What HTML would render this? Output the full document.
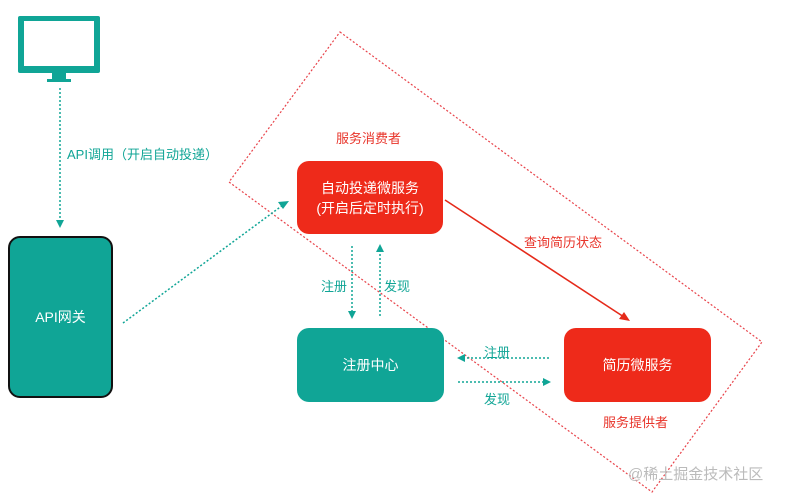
<!DOCTYPE html><html><head><meta charset="utf-8"><style>
body{margin:0;width:793px;height:501px;background:#fff;position:relative;overflow:hidden;font-family:"Liberation Sans","Noto Sans CJK SC",sans-serif}
.b{position:absolute;border-radius:12px;color:#fff;font-size:14px;display:flex;align-items:center;justify-content:center;text-align:center;line-height:20px}
.t{position:absolute;font-size:13px;white-space:nowrap}
</style></head><body>
<svg width="793" height="501" style="position:absolute;left:0;top:0">
<polygon points="340,32 762,342 652,492 229,182" fill="none" stroke="#e8434a" stroke-width="1.2" stroke-dasharray="2,2"/>
<!-- monitor -->
<rect x="18" y="16" width="82" height="57" rx="2" fill="#10a596"/>
<rect x="24" y="21" width="70" height="45" fill="#fff"/>
<rect x="52" y="73" width="14" height="6" fill="#10a596"/>
<rect x="47" y="79" width="24" height="3" fill="#10a596"/>
<g stroke="#10a596" stroke-width="1.5" stroke-dasharray="2,2" fill="none">
<line x1="60" y1="88" x2="60" y2="222"/>
<line x1="123" y1="323" x2="283" y2="205"/>
<line x1="352" y1="246" x2="352" y2="312"/>
<line x1="380" y1="316" x2="380" y2="250"/>
<line x1="549" y1="358" x2="464" y2="358"/>
<line x1="458" y1="382" x2="543" y2="382"/>
</g>
<g fill="#10a596">
<polygon points="56,220 64,220 60,228"/>
<polygon points="289,201 278,202 283,209"/>
<polygon points="348,311 356,311 352,319"/>
<polygon points="376,252 384,252 380,244"/>
<polygon points="465,354 465,362 457,358"/>
<polygon points="543,378 543,386 551,382"/>
</g>
<line x1="445" y1="200" x2="624" y2="317" stroke="#e52a1a" stroke-width="1.6"/>
<polygon points="630,321 619,319 624,312" fill="#e52a1a"/>
</svg>
<div class="b" style="left:8px;top:236px;width:101px;height:158px;background:#10a596;border:2px solid #111">API网关</div>
<div class="b" style="left:297px;top:161px;width:146px;height:73px;background:#ee2a1a">自动投递微服务<br>(开启后定时执行)</div>
<div class="b" style="left:297px;top:328px;width:147px;height:74px;background:#10a596">注册中心</div>
<div class="b" style="left:564px;top:328px;width:147px;height:74px;background:#ee2a1a">简历微服务</div>
<div class="t" style="left:67px;top:144px;color:#10a596">API调用（开启自动投递）</div>
<div class="t" style="left:336px;top:128px;color:#e8342a">服务消费者</div>
<div class="t" style="left:524px;top:232px;color:#e8342a">查询简历状态</div>
<div class="t" style="left:321px;top:276px;color:#10a596">注册</div>
<div class="t" style="left:384px;top:276px;color:#10a596">发现</div>
<div class="t" style="left:484px;top:342px;color:#10a596">注册</div>
<div class="t" style="left:484px;top:389px;color:#10a596">发现</div>
<div class="t" style="left:603px;top:412px;color:#e8342a">服务提供者</div>
<div class="t" style="left:628px;top:463px;color:#bbb;font-size:15px">@稀土掘金技术社区</div>
</body></html>
